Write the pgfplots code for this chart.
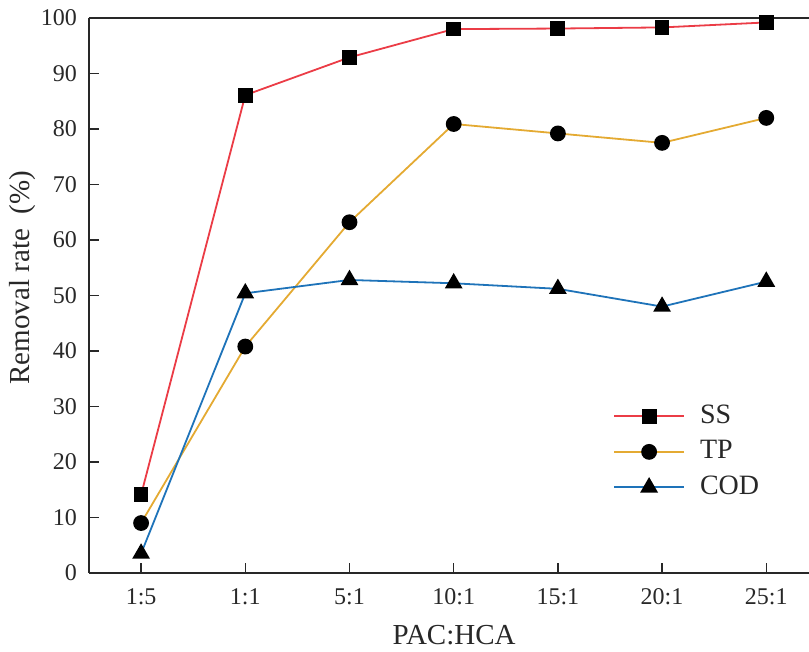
\documentclass[border=0pt]{standalone}
\usepackage{fontspec}
\setmainfont{Liberation Serif}
\usepackage{pgfplots}
\pgfplotsset{compat=1.18}
\definecolor{ssred}{RGB}{235,60,70}
\definecolor{tpgold}{RGB}{228,170,50}
\definecolor{codblue}{RGB}{30,115,185}
\definecolor{axgray}{RGB}{40,40,40}
\begin{document}
\begin{tikzpicture}
\begin{axis}[
  scale only axis, width=720pt, height=555pt,
  xmin=-0.5, xmax=6.41, ymin=0, ymax=100,
  axis x line*=bottom, axis y line*=left,
  axis line style={axgray, line width=1.5pt},
  tick style={axgray, line width=1.5pt},
  major tick length=10pt,
  tick align=inside,
  xtick={0,...,6}, xticklabels={1:5,1:1,5:1,10:1,15:1,20:1,25:1},
  ytick={0,10,...,100},
  /pgf/number format/assume math mode=true,
  yticklabel style={inner sep=0pt, xshift=-12pt, font=\fontsize{24}{28}\selectfont, text=axgray},
  xticklabel style={inner sep=0pt, yshift=-15pt, font=\fontsize{24}{28}\selectfont, text=axgray},
  xlabel={PAC:HCA}, ylabel={Removal rate\ \ (\%)},
  label style={font=\fontsize{29}{34}\selectfont, text=axgray},
  xlabel style={at={(axis description cs:0.507,0)}, anchor=base, yshift=-72pt},
  ylabel style={at={(axis description cs:-0.0917,0.532)}, anchor=center},
  clip=false,
  legend style={draw=none, fill=none, at={(rel axis cs:0.7278,0.306)}, anchor=north west,
    font=\fontsize{28}{32}\selectfont, inner sep=0pt, row sep=9.5pt,
    cells={anchor=west},
    nodes={inner sep=0pt, text height=20pt, text depth=6pt, text=axgray},
    /tikz/every odd column/.append style={column sep=15pt}},
  legend image code/.code={\draw[mark repeat=2,mark phase=2,#1,line width=1.8pt] plot coordinates {(0pt,0pt) (35pt,0pt) (70pt,0pt)};},
  every axis plot/.append style={line width=1.8pt},
]
\addplot[ssred, mark=square*, mark size=6.5pt, mark options={fill=black, draw=black, solid}]
  coordinates {(0,14.1) (1,86.1) (2,92.9) (3,98.0) (4,98.1) (5,98.3) (6,99.2)};
\addlegendentry{SS}
\addplot[tpgold, mark=*, mark size=7pt, mark options={fill=black, draw=black, solid}]
  coordinates {(0,9.0) (1,40.8) (2,63.2) (3,80.9) (4,79.2) (5,77.5) (6,82.0)};
\addlegendentry{TP}
\addplot[codblue, mark=triangle*, mark size=8.5pt, mark options={fill=black, draw=black, solid}]
  coordinates {(0,3.5) (1,50.4) (2,52.8) (3,52.2) (4,51.2) (5,48.0) (6,52.5)};
\addlegendentry{COD}
\draw[axgray, line width=1.5pt] (rel axis cs:0,1) -- (rel axis cs:1,1);
\end{axis}
\pgfresetboundingbox
\path (-89pt,-79pt) rectangle (720pt,573pt);
\end{tikzpicture}
\end{document}
